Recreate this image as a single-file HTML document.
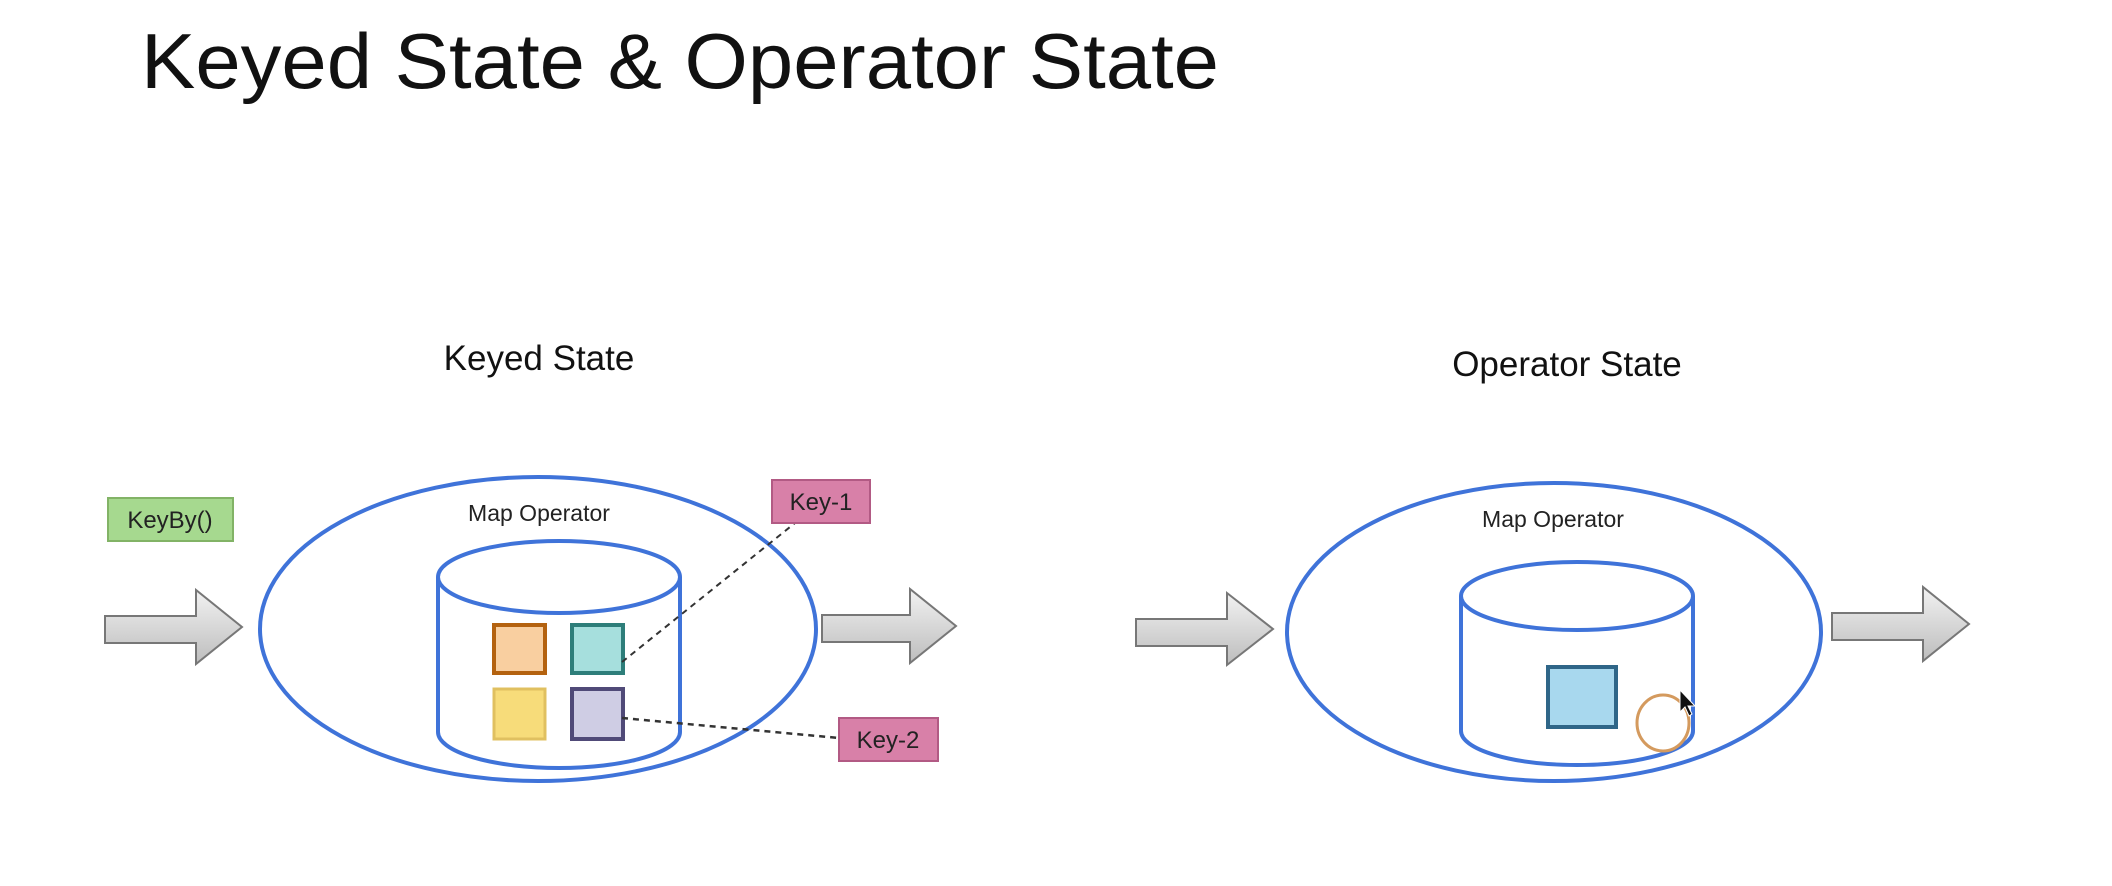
<!DOCTYPE html>
<html><head><meta charset="utf-8"><style>
html,body{margin:0;padding:0;background:#fff;}
svg{display:block;}
</style></head><body>
<svg width="2112" height="886" viewBox="0 0 2112 886" xmlns="http://www.w3.org/2000/svg">
<defs>
<linearGradient id="ag" x1="0" y1="0" x2="0" y2="1">
<stop offset="0" stop-color="#f2f2f2"/><stop offset="1" stop-color="#bdbdbd"/>
</linearGradient>
</defs>
<text x="141" y="88" font-family="Liberation Sans, sans-serif" font-size="78" fill="#111" textLength="1078" lengthAdjust="spacingAndGlyphs">Keyed State &amp; Operator State</text>

<text x="539" y="370" text-anchor="middle" font-family="Liberation Sans, sans-serif" font-size="35" fill="#111">Keyed State</text>
<text x="1567" y="376" text-anchor="middle" font-family="Liberation Sans, sans-serif" font-size="35" fill="#111">Operator State</text>

<!-- arrows -->
<g fill="url(#ag)" stroke="#777" stroke-width="2">
<polygon points="105,616 196,616 196,590 242,627 196,664 196,643 105,643"/>
<polygon points="822,615 910,615 910,589 956,626 910,663 910,642 822,642"/>
<polygon points="1136,619 1227,619 1227,593 1273,629 1227,665 1227,646 1136,646"/>
<polygon points="1832,613 1923,613 1923,587 1969,624 1923,661 1923,640 1832,640"/>
</g>

<!-- KeyBy -->
<rect x="108" y="498" width="125" height="43" fill="#a6d98f" stroke="#82b366" stroke-width="2"/>
<text x="170" y="528" text-anchor="middle" font-family="Liberation Sans, sans-serif" font-size="24" fill="#222">KeyBy()</text>

<!-- ellipse 1 -->
<ellipse cx="538" cy="629" rx="278" ry="152" fill="none" stroke="#3f73d9" stroke-width="4"/>
<text x="539" y="521" text-anchor="middle" font-family="Liberation Sans, sans-serif" font-size="23" fill="#222">Map Operator</text>
<!-- cylinder 1 -->
<path d="M438,577 L438,732 A121,36 0 0 0 680,732 L680,577" fill="none" stroke="#3f73d9" stroke-width="4"/>
<ellipse cx="559" cy="577" rx="121" ry="36" fill="none" stroke="#3f73d9" stroke-width="4"/>
<rect x="494" y="625" width="51" height="48" fill="#f9cfa0" stroke="#b4620f" stroke-width="4"/>
<rect x="572" y="625" width="51" height="48" fill="#a6dfdd" stroke="#2e7e7a" stroke-width="4"/>
<rect x="494" y="689" width="51" height="50" fill="#f7dc7a" stroke="#e0c060" stroke-width="3"/>
<rect x="572" y="689" width="51" height="50" fill="#cfcde4" stroke="#504a78" stroke-width="4"/>
<line x1="622" y1="662" x2="795" y2="523" stroke="#333" stroke-width="2" stroke-dasharray="6,5"/>
<line x1="622" y1="718" x2="839" y2="738" stroke="#333" stroke-width="2.5" stroke-dasharray="6,5"/>
<rect x="772" y="480" width="98" height="43" fill="#d880a8" stroke="#b25a84" stroke-width="2"/>
<text x="821" y="510" text-anchor="middle" font-family="Liberation Sans, sans-serif" font-size="24" fill="#222">Key-1</text>
<rect x="839" y="718" width="99" height="43" fill="#d880a8" stroke="#b25a84" stroke-width="2"/>
<text x="888" y="748" text-anchor="middle" font-family="Liberation Sans, sans-serif" font-size="24" fill="#222">Key-2</text>

<!-- ellipse 2 -->
<ellipse cx="1554" cy="632" rx="267" ry="149" fill="none" stroke="#3f73d9" stroke-width="4"/>
<text x="1553" y="527" text-anchor="middle" font-family="Liberation Sans, sans-serif" font-size="23" fill="#222">Map Operator</text>
<path d="M1461,596 L1461,731 A116,34 0 0 0 1693,731 L1693,596" fill="none" stroke="#3f73d9" stroke-width="4"/>
<ellipse cx="1577" cy="596" rx="116" ry="34" fill="none" stroke="#3f73d9" stroke-width="4"/>
<rect x="1548" y="667" width="68" height="60" fill="#a8d8ee" stroke="#2f6688" stroke-width="4"/>
<ellipse cx="1663" cy="723" rx="26" ry="28" fill="none" stroke="#d49a5e" stroke-width="3"/>
<path d="M1680,690 l0,22 l5,-5 l4,9 l3,-2 l-4,-8 l7,0 z" fill="#111" stroke="#fff" stroke-width="1"/>
</svg>
</body></html>
